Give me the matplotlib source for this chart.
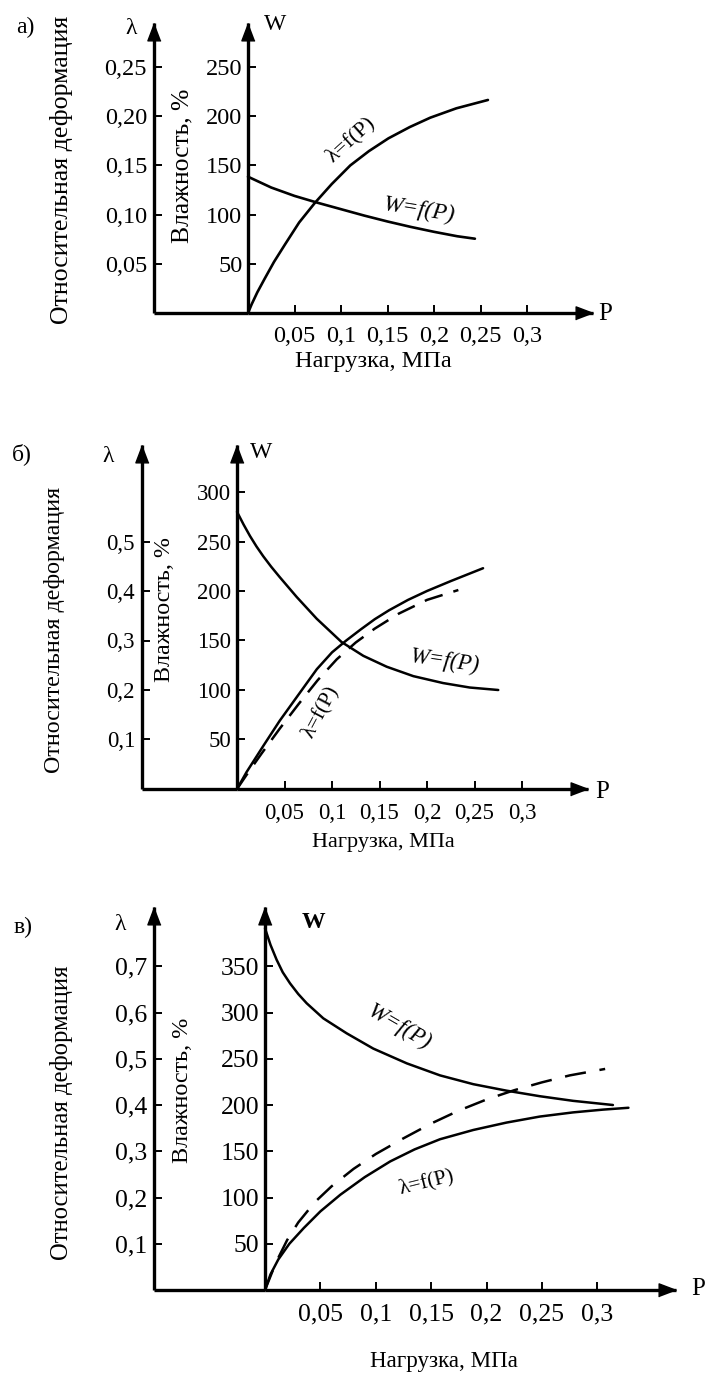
import matplotlib
matplotlib.use("Agg")
import matplotlib.pyplot as plt
from matplotlib.ticker import FixedLocator, FixedFormatter, NullLocator

plt.rcParams['font.family'] = ['Liberation Serif', 'DejaVu Serif']

# ------------------------------------------------------------------ data
P_ticks = [0.05, 0.1, 0.15, 0.2, 0.25, 0.3]
P_ticklabels = ['0,05', '0,1', '0,15', '0,2', '0,25', '0,3']

# panel а)
a_W_ticks = [50, 100, 150, 200, 250]
a_W_ticklabels = ['50', '100', '150', '200', '250']
a_lam_ticks = [0.05, 0.10, 0.15, 0.20, 0.25]
a_lam_ticklabels = ['0,05', '0,10', '0,15', '0,20', '0,25']
a_P_lam = [0, 0.004, 0.01, 0.018, 0.028, 0.04, 0.055, 0.072, 0.09, 0.11,
           0.13, 0.151, 0.174, 0.196, 0.224, 0.258]
a_lam = [0, 0.009, 0.021, 0.035, 0.052, 0.070, 0.092, 0.112, 0.131, 0.150,
         0.1645, 0.1775, 0.189, 0.1985, 0.208, 0.2165]
a_P_W = [0, 0.025, 0.05, 0.075, 0.1, 0.125, 0.15, 0.175, 0.2, 0.225, 0.244]
a_W = [138.5, 127.5, 119, 112, 105.5, 99, 93, 87.5, 82.5, 78, 75.5]

# panel б)
b_W_ticks = [50, 100, 150, 200, 250, 300]
b_W_ticklabels = ['50', '100', '150', '200', '250', '300']
b_lam_ticks = [0.1, 0.2, 0.3, 0.4, 0.5]
b_lam_ticklabels = ['0,1', '0,2', '0,3', '0,4', '0,5']
b_P_W = [0, 0.007, 0.0137, 0.0205, 0.0277, 0.036, 0.045, 0.0628, 0.0839,
         0.110, 0.133, 0.1576, 0.1856, 0.217, 0.245, 0.275]
b_W = [280, 267, 255.5, 245, 235, 224.5, 214, 194, 172, 148.5, 134.5, 123.5,
       114, 107, 102.5, 100]
b_P_lam = [0, 0.01, 0.028, 0.045, 0.063, 0.084, 0.1, 0.115, 0.13, 0.145,
           0.16, 0.18, 0.2, 0.225, 0.259]
b_lam = [0, 0.034, 0.088, 0.138, 0.186, 0.242, 0.276, 0.300, 0.322, 0.343,
         0.361, 0.382, 0.400, 0.420, 0.446]
b_P_lam2 = [0, 0.012, 0.026, 0.045, 0.065, 0.085, 0.105, 0.125, 0.145, 0.17,
            0.2, 0.233]
b_lam2 = [0, 0.034, 0.072, 0.122, 0.172, 0.220, 0.262, 0.296, 0.324, 0.354,
          0.382, 0.402]

# panel в)
c_W_ticks = [50, 100, 150, 200, 250, 300, 350]
c_W_ticklabels = ['50', '100', '150', '200', '250', '300', '350']
c_lam_ticks = [0.1, 0.2, 0.3, 0.4, 0.5, 0.6, 0.7]
c_lam_ticklabels = ['0,1', '0,2', '0,3', '0,4', '0,5', '0,6', '0,7']
c_P_W = [0, 0.005, 0.0105, 0.016, 0.0226, 0.03, 0.0376, 0.0526, 0.0737,
         0.0977, 0.128, 0.158, 0.188, 0.218, 0.248, 0.278, 0.314]
c_W = [391, 373, 357, 343.5, 331.5, 320, 310, 293.7, 277.5, 261, 245, 232,
       222.5, 215.5, 209.5, 204.5, 200]
c_P_lam = [0, 0.005, 0.012, 0.022, 0.035, 0.05, 0.068, 0.09, 0.113, 0.135,
           0.158, 0.188, 0.218, 0.248, 0.278, 0.305, 0.328]
c_lam = [0, 0.034, 0.066, 0.100, 0.134, 0.170, 0.206, 0.244, 0.278, 0.304,
         0.326, 0.346, 0.362, 0.375, 0.384, 0.390, 0.394]
c_P_lam2 = [0, 0.01, 0.02, 0.03, 0.045, 0.06, 0.08, 0.1, 0.125, 0.15, 0.175,
            0.2, 0.225, 0.25, 0.275, 0.307]
c_lam2 = [0, 0.060, 0.108, 0.146, 0.190, 0.224, 0.262, 0.294, 0.328, 0.360,
          0.388, 0.412, 0.432, 0.449, 0.464, 0.478]

# ------------------------------------------------------------------ layout
FW, FH = 707, 1374
fig = plt.figure(figsize=(FW / 100, FH / 100), dpi=100)
fig.patch.set_facecolor('white')
renderer = fig.canvas.get_renderer()


def fx(x):
    return x / FW


def fy(y):
    return 1 - y / FH


UP = [(0, 0), (-0.38, -1), (0.38, -1)]
RIGHT = [(0, 0), (-1, 0.38), (-1, -0.38)]


def style_axis_spines(ax, lw):
    for s in ['top', 'right']:
        ax.spines[s].set_visible(False)
    for s in ['left', 'bottom']:
        ax.spines[s].set_linewidth(lw)
        ax.spines[s].set_capstyle('butt')
    ax.patch.set_alpha(0)


def fit(t, target, vertical=False):
    bb = t.get_window_extent(renderer)
    cur = bb.height if vertical else bb.width
    t.set_fontsize(t.get_fontsize() * target / cur)


def panel(g, W_ticks, W_tl, lam_ticks, lam_tl, k, tick_fs, curves, labels,
          texts):
    ox, oy = g['origin']
    pxP, pxW = g['pxP'], g['pxW']
    top, right, lamx = g['top'], g['right'], g['lamx']
    Wtop = (oy - top) / pxW
    Pright = (right - ox) / pxP
    lw_ax = g['lw_ax']

    # main W axes
    ax = fig.add_axes([fx(ox), fy(oy), fx(right - ox), (oy - top) / FH])
    ax.set_xlim(0, Pright)
    ax.set_ylim(0, Wtop)
    style_axis_spines(ax, lw_ax)
    ax.xaxis.set_major_locator(FixedLocator(P_ticks))
    ax.xaxis.set_major_formatter(FixedFormatter(P_ticklabels))
    ax.yaxis.set_major_locator(FixedLocator(W_ticks))
    ax.yaxis.set_major_formatter(FixedFormatter(W_tl))
    ax.tick_params(axis='x', direction='in', length=5.5, width=1.4,
                   pad=g['xpad'], labelsize=tick_fs)
    ax.tick_params(axis='y', direction='in', length=5.5, width=1.4,
                   pad=4, labelsize=tick_fs)
    ax.plot([0], [1], marker=UP, ms=25, color='k', transform=ax.transAxes,
            clip_on=False)
    ax.plot([1], [0], marker=RIGHT, ms=25, color='k', transform=ax.transAxes,
            clip_on=False)

    # λ curves on a twin scale
    axl = ax.twinx()
    axl.set_ylim(0, Wtop * k)
    for s in axl.spines.values():
        s.set_visible(False)
    axl.yaxis.set_major_locator(NullLocator())
    axl.patch.set_alpha(0)

    for which, P, Y, ls in curves:
        target = ax if which == 'W' else axl
        kw = dict(color='k', lw=g['lw_c'], solid_capstyle='round',
                  solid_joinstyle='round', clip_on=False)
        if ls == 'dash':
            kw['dashes'] = g['dash']
            kw['dash_capstyle'] = 'butt'
        target.plot(P, Y, **kw)

    # λ axis
    al = fig.add_axes([fx(lamx), fy(oy), fx(ox - lamx), (oy - top) / FH])
    al.set_xlim(0, 1)
    al.set_ylim(0, Wtop * k)
    style_axis_spines(al, lw_ax)
    al.xaxis.set_major_locator(NullLocator())
    al.yaxis.set_major_locator(FixedLocator(lam_ticks))
    al.yaxis.set_major_formatter(FixedFormatter(lam_tl))
    al.tick_params(axis='y', direction='in', length=5.5, width=1.4, pad=5,
                   labelsize=tick_fs)
    al.plot([0], [1], marker=UP, ms=25, color='k', transform=al.transAxes,
            clip_on=False)

    for s, P, Wv, rot, fs, it in labels:
        ax.text(P, Wv, s, rotation=rot, fontsize=fs, ha='center', va='center',
                style='italic' if it else 'normal', rotation_mode='anchor')

    for s, x, y, fs, rot, target, extra in texts:
        t = fig.text(fx(x), fy(y), s, fontsize=fs, rotation=rot,
                     ha='center', va='center', **extra)
        if target:
            fit(t, target, vertical=(rot == 90))


# panel а)
ga = dict(origin=(248, 313), pxP=930, pxW=0.984, top=23, right=593, lamx=154,
          lw_ax=2.4, lw_c=1.9, xpad=9, dash=(7, 4))
panel(ga, a_W_ticks, a_W_ticklabels, a_lam_ticks, a_lam_ticklabels, 1 / 1000,
      17.5,
      [('L', a_P_lam, a_lam, 'solid'), ('W', a_P_W, a_W, 'solid')],
      [('λ=f(P)', 0.110, 176, 42, 16, False),
       ('W=f(P)', 0.184, 104, -9, 17, True)],
      [('а)', 25, 27, 17, 0, None, {}),
       ('λ', 131, 29, 17, 0, None, {}),
       ('W', 275, 24, 17, 0, None, {}),
       ('P', 605, 314, 18, 0, None, {}),
       ('Относительная деформация', 62, 170, 16, 90, 308, {}),
       ('Влажность, %', 182, 166, 16, 90, 155, {}),
       ('Нагрузка, МПа', 373, 362, 16, 0, 157, {})])

# panel б)
gb = dict(origin=(237, 789), pxP=950, pxW=0.99, top=445, right=588, lamx=142,
          lw_ax=2.4, lw_c=1.8, xpad=10, dash=(7.5, 4.5))
panel(gb, b_W_ticks, b_W_ticklabels, b_lam_ticks, b_lam_ticklabels, 1 / 500,
      16.5,
      [('W', b_P_W, b_W, 'solid'), ('L', b_P_lam, b_lam, 'solid'),
       ('L', b_P_lam2, b_lam2, 'dash')],
      [('W=f(P)', 0.219, 129, -8, 16.5, True),
       ('λ=f(P)', 0.088, 78, 62, 15.5, False)],
      [('б)', 22, 454, 17, 0, None, {}),
       ('λ', 108, 456, 17, 0, None, {}),
       ('W', 261, 452, 17, 0, None, {}),
       ('P', 602, 792, 18, 0, None, {}),
       ('Относительная деформация', 55, 630, 16, 90, 286, {}),
       ('Влажность, %', 165, 609, 16, 90, 145, {}),
       ('Нагрузка, МПа', 383, 842, 16, 0, 143, {})])

# panel в)
gc = dict(origin=(265, 1290), pxP=1108, pxW=0.925, top=907, right=676,
          lamx=154, lw_ax=2.4, lw_c=1.8, xpad=10, dash=(8.5, 5.5))
panel(gc, c_W_ticks, c_W_ticklabels, c_lam_ticks, c_lam_ticklabels, 1 / 500,
      18.5,
      [('W', c_P_W, c_W, 'solid'), ('L', c_P_lam, c_lam, 'solid'),
       ('L', c_P_lam2, c_lam2, 'dash')],
      [('W=f(P)', 0.121, 284, -30, 16.5, True),
       ('λ=f(P)', 0.146, 117, 14, 15.5, False)],
      [('в)', 23, 927, 17, 0, None, {}),
       ('λ', 120, 925, 17, 0, None, {}),
       ('W', 313, 922, 17, 0, None, {'fontweight': 'bold'}),
       ('P', 698, 1289, 18, 0, None, {}),
       ('Относительная деформация', 62, 1113, 16, 90, 293, {}),
       ('Влажность, %', 182, 1090, 16, 90, 146, {}),
       ('Нагрузка, МПа', 444, 1362, 16, 0, 148, {})])

fig.savefig('out.png', dpi=100, facecolor='white')
